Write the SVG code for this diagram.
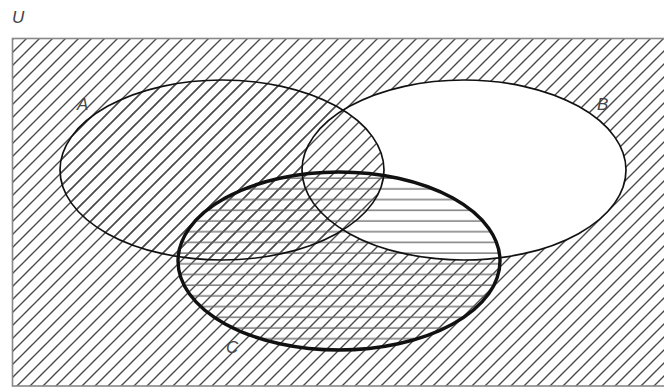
<svg xmlns="http://www.w3.org/2000/svg" width="664" height="387" viewBox="0 0 664 387">
  <style>
    .lbl { font-family: "Liberation Sans", Arial, sans-serif; font-style: italic; font-size: 17px; fill: #444; }
    .set { fill: none; stroke: #111; stroke-width: 1.7; }
    .thick { stroke-width: 3.4; }
  </style>
  <defs>
    <pattern id="diag" patternUnits="userSpaceOnUse" width="13" height="13">
      <path d="M-1,1 l2,-2 M0,13 l13,-13 M12,14 l2,-2" stroke="#4a4a4a" stroke-width="1.4" fill="none"/>
    </pattern>
    <pattern id="horiz" patternUnits="userSpaceOnUse" width="10" height="10.7" y="2">
      <path d="M-1,5 H11" stroke="#666" stroke-width="1.3" fill="none"/>
    </pattern>
  </defs>
  <rect width="664" height="387" fill="#fff"/>
  <g id="universe">
    <rect x="12.5" y="38.5" width="670" height="347.5" fill="url(#diag)" stroke="#888" stroke-width="1.6"/>
    <text class="lbl" x="12" y="23">U</text>
  </g>
  <g id="setB">
    <ellipse cx="464" cy="170" rx="162" ry="90" fill="#fff"/>
  </g>
  <g id="setA">
    <ellipse cx="222" cy="170" rx="162" ry="90" fill="url(#diag)"/>
  </g>
  <g id="setC">
    <ellipse cx="339" cy="261" rx="161" ry="89" fill="url(#horiz)"/>
  </g>
  <g id="outlines">
    <ellipse class="set" cx="222" cy="170" rx="162" ry="90"/>
    <ellipse class="set" cx="464" cy="170" rx="162" ry="90"/>
    <ellipse class="set thick" cx="339" cy="261" rx="161" ry="89"/>
    <text class="lbl" x="77" y="110">A</text>
    <text class="lbl" x="597" y="110">B</text>
    <text class="lbl" x="226" y="353">C</text>
  </g>
  <g id="connectors"/>
</svg>
